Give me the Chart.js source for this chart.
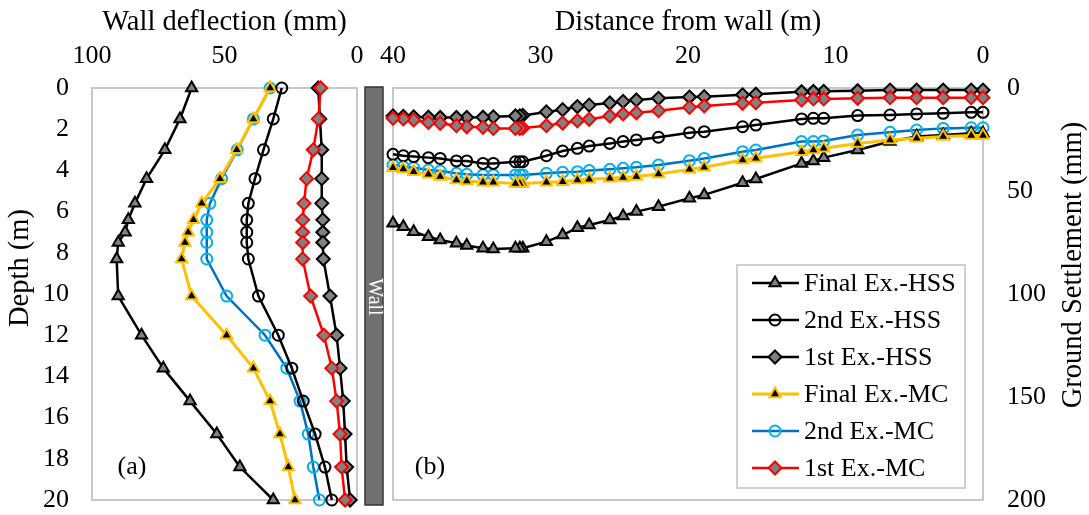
<!DOCTYPE html>
<html>
<head>
<meta charset="utf-8">
<script src="https://cdn.jsdelivr.net/npm/chart.js@4.4.0/dist/chart.umd.min.js"></script>
<style>
html, body { margin: 0; padding: 0; background: #fff; }
#wrap { position: relative; width: 1089px; height: 515px; overflow: hidden; }
canvas { position: absolute; top: 0; }
#deflChart { left: 0; }
#settleChart { left: 365px; }
</style>
</head>
<body>
<div id="wrap">
  <canvas id="deflChart" width="390" height="515"></canvas>
  <canvas id="settleChart" width="724" height="515"></canvas>
</div>
<script>
// (a) wall deflection vs depth
const depths = [0, 1.5, 3, 4.4, 5.6, 6.4, 7, 7.5, 8.3, 10.1, 12, 13.6, 15.2, 16.8, 18.4, 20];
const deflFinalHSS = [62.4, 66.8, 72.5, 79.4, 83.8, 86.3, 87.5, 90.1, 90.7, 90.1, 81.3, 73.1, 63, 52.9, 44.2, 31.6];
const defl2ndHSS = [28.4, 31.6, 35.3, 38.5, 41, 41.6, 41.6, 41.6, 41, 37.2, 29.7, 24.6, 20.3, 15.8, 12.1, 9.5];
const defl1stHSS = [14.6, 14, 13.3, 13.3, 13.3, 12.9, 12.9, 12.9, 12.7, 10.2, 7.7, 6.4, 5.2, 4.5, 3.9, 2.6];
const deflFinalMC = [32.8, 39.1, 45.4, 51.7, 58.6, 61.7, 63.7, 64.9, 66.2, 62.4, 49.2, 39.1, 32.8, 29.1, 25.9, 23.4];
const defl2ndMC = [32.8, 39.1, 45.2, 51.1, 55.5, 56.7, 56.7, 56.7, 56.7, 49.2, 34.7, 26.5, 21.5, 18.4, 16.5, 14.2];
const defl1stMC = [13.7, 14.6, 16.5, 19, 20, 20.5, 20.5, 20.5, 20.5, 17.5, 12.5, 9.5, 7.7, 6.4, 5.8, 4.5];

// (b) ground settlement vs distance from wall
const distances = [0, 0.8, 2.7, 4.5, 6.3, 8.5, 10.8, 11.5, 12.3, 15.4, 16.3, 18.9, 19.9, 22, 23.5, 24.4, 25.3,
  26.7, 27.5, 28.5, 29.6, 31.2, 31.4, 31.7, 33.2, 33.9, 35, 35.7, 36.8, 37.6, 38.6, 39.3, 40];
const setFinalHSS = [22, 22, 22.8, 23.6, 26, 30.1, 33.8, 35.4, 36.6, 44.2, 46, 51.9, 53.5, 57.6, 60, 62.1, 64.1,
  66.5, 67.8, 71.4, 74.6, 77.8, 77.8, 77.8, 78.2, 77.8, 76.5, 75.4, 73.8, 72.2, 69.8, 67.3, 65.7];
const set2ndHSS = [11.8, 11.8, 12.3, 12.6, 13.1, 13.4, 14.7, 14.7, 15, 18, 18.8, 21.2, 21.7, 23.9, 25.2, 26, 26.9,
  28.2, 29.3, 30.6, 32.9, 35.8, 35.8, 35.8, 36.6, 36.6, 35.4, 35.4, 34.2, 33.8, 33.3, 32.9, 32.2];
const set1stHSS = [1, 1, 1, 1, 1, 1.3, 1.6, 1.7, 1.8, 3, 3.3, 4.2, 4.4, 5, 5.8, 6.5, 7.3,
  8.3, 9, 10.5, 11.6, 13.3, 13.5, 13.6, 14, 14.2, 14.3, 14.3, 14.3, 14.2, 14, 13.8, 13.6];
const setFinalMC = [23.1, 23.1, 23.6, 24.4, 25.2, 26.9, 29.3, 30.1, 30.9, 34.1, 35, 38.5, 39.5, 41.7, 43, 43.5, 43.8,
  44.3, 44.7, 45.5, 45.8, 46.3, 46.3, 46.3, 45.8, 45.8, 45.1, 44.7, 43, 41.9, 40.6, 39.3, 38.7];
const set2ndMC = [19.3, 19.3, 19.6, 20.4, 21.5, 22.8, 25.7, 26, 26, 30.1, 30.9, 34.2, 35.3, 37.4, 38.5, 39, 39.5,
  40.1, 40.6, 40.9, 41.4, 42.2, 42.2, 42.2, 42.2, 42.2, 41.9, 41.4, 40.3, 39.8, 38.7, 38.2, 37.4];
const set1stMC = [4.7, 4.7, 4.7, 4.7, 4.7, 5, 5.3, 5.3, 5.8, 7.2, 7.4, 8.7, 9.4, 11, 12, 12.6, 13.6,
  15.2, 15.9, 17, 18.3, 19.4, 19.6, 19.6, 19.6, 19.1, 18.8, 18.3, 17.1, 16.7, 15.5, 15, 14.7];

const seriesNames = ["Final Ex.-HSS", "2nd Ex.-HSS", "1st Ex.-HSS", "Final Ex.-MC", "2nd Ex.-MC", "1st Ex.-MC"];
const deflTicks = [0, 50, 100];
const depthTicks = [0, 2, 4, 6, 8, 10, 12, 14, 16, 18, 20];
const distTicks = [0, 10, 20, 30, 40];
const settleTicks = [0, 50, 100, 150, 200];

const SERIF = "'Liberation Serif', 'Times New Roman', serif";
const TITLE_SIZE = 28.5;
Chart.defaults.font.family = SERIF;
Chart.defaults.font.size = 26;
Chart.defaults.color = "#000";

// marker / line look per series
const looks = [
  { line: "#000", lw: 2.5, style: "triangle", r: 6.5, bg: "#808080", bd: "#000" },
  { line: "#000", lw: 2.5, style: "circle", r: 5.5, bg: "rgba(0,0,0,0)", bd: "#000" },
  { line: "#000", lw: 2.5, style: "rectRot", r: 6.5, bg: "#808080", bd: "#000" },
  { line: "#FFC000", lw: 3, style: "triangle", r: 6.5, bg: "#000", bd: "#FFC000" },
  { line: "#0070C0", lw: 2.5, style: "circle", r: 5.5, bg: "rgba(0,0,0,0)", bd: "#00B0F0" },
  { line: "#FF0000", lw: 2.5, style: "rectRot", r: 6.5, bg: "#808080", bd: "#FF0000" }
];
const drawOrder = [3, 2, 4, 1, 5, 0];

function pairs(xs, ys) {
  return xs.map((x, i) => ({ x: x, y: ys[i] }));
}

function makeSets(list) {
  return list.map((data, i) => ({
    label: seriesNames[i],
    data: data,
    borderColor: looks[i].line,
    borderWidth: looks[i].lw,
    pointStyle: looks[i].style,
    pointRadius: looks[i].r,
    pointBackgroundColor: looks[i].bg,
    pointBorderColor: looks[i].bd,
    pointBorderWidth: 2,
    tension: 0,
    fill: false,
    clip: false,
    order: drawOrder[i]
  }));
}

function fixedTicks(values) {
  return function (scale) {
    scale.ticks = values.map(v => ({ value: v }));
  };
}

// fixed box sizes so the plot areas line up with the picture
function fitX(s) {
  s.height = 88;
  s.paddingLeft = 0; s.paddingRight = 0; s.paddingTop = 0; s.paddingBottom = 0;
}
function fitY(w) {
  return function (s) {
    s.width = w;
    s.paddingLeft = 0; s.paddingRight = 0; s.paddingTop = 0; s.paddingBottom = 0;
  };
}

function drawMarker(ctx, look, x, y) {
  const r = look.r;
  ctx.beginPath();
  if (look.style === "triangle") {
    for (let k = 0; k < 3; k++) {
      const a = k * 2 * Math.PI / 3;
      ctx[k ? "lineTo" : "moveTo"](x + Math.sin(a) * r, y - Math.cos(a) * r);
    }
    ctx.closePath();
  } else if (look.style === "circle") {
    ctx.arc(x, y, r, 0, Math.PI * 2);
  } else {
    ctx.moveTo(x, y - r); ctx.lineTo(x + r, y); ctx.lineTo(x, y + r); ctx.lineTo(x - r, y);
    ctx.closePath();
  }
  ctx.fillStyle = look.bg;
  ctx.fill();
  ctx.lineWidth = 2;
  ctx.strokeStyle = look.bd;
  ctx.stroke();
}

const frame = {
  id: "frame",
  beforeDatasetsDraw(chart) {
    const a = chart.chartArea, ctx = chart.ctx;
    ctx.save();
    ctx.strokeStyle = "#c8c8c8";
    ctx.lineWidth = 2;
    ctx.strokeRect(a.left, a.top, a.right - a.left, a.bottom - a.top);
    ctx.restore();
  }
};

const leftExtras = {
  id: "leftExtras",
  afterDraw(chart) {
    const a = chart.chartArea, ctx = chart.ctx;
    ctx.save();
    // wall strip
    ctx.fillStyle = "#707070";
    ctx.strokeStyle = "#333";
    ctx.lineWidth = 1.5;
    ctx.fillRect(a.right + 8, a.top - 1, 18, a.bottom - a.top + 6);
    ctx.strokeRect(a.right + 8, a.top - 1, 18, a.bottom - a.top + 6);
    ctx.translate(a.right + 17, (a.top + a.bottom) / 2 + 3);
    ctx.rotate(Math.PI / 2);
    ctx.fillStyle = "#fff";
    ctx.font = "20px " + SERIF;
    ctx.textAlign = "center";
    ctx.textBaseline = "middle";
    ctx.fillText("Wall", 0, 0);
    ctx.restore();

    ctx.save();
    ctx.font = "26px " + SERIF;
    ctx.fillStyle = "#000";
    ctx.textAlign = "center";
    ctx.textBaseline = "middle";
    ctx.fillText("(a)", a.left + 40, a.bottom - 33);
    ctx.font = TITLE_SIZE + "px " + SERIF;
    ctx.translate(21, 268);
    ctx.rotate(-Math.PI / 2);
    ctx.fillText("Depth (m)", 0, 0);
    ctx.restore();
  }
};

const rightExtras = {
  id: "rightExtras",
  afterDraw(chart) {
    const a = chart.chartArea, ctx = chart.ctx;
    ctx.save();
    ctx.font = "26px " + SERIF;
    ctx.fillStyle = "#000";
    ctx.textAlign = "center";
    ctx.textBaseline = "middle";
    ctx.fillText("(b)", a.left + 37, a.bottom - 33);

    // legend box inside the plot
    const bx = a.right - 246, by = 265, bw = 228, bh = 223;
    ctx.fillStyle = "#fff";
    ctx.fillRect(bx, by, bw, bh);
    ctx.strokeStyle = "#d0d0d0";
    ctx.lineWidth = 2;
    ctx.strokeRect(bx, by, bw, bh);
    seriesNames.forEach((name, i) => {
      const y = by + 18 + i * 37;
      const look = looks[i];
      ctx.strokeStyle = look.line;
      ctx.lineWidth = look.lw;
      ctx.beginPath();
      ctx.moveTo(bx + 15, y);
      ctx.lineTo(bx + 62, y);
      ctx.stroke();
      drawMarker(ctx, look, bx + 38, y);
      ctx.fillStyle = "#000";
      ctx.textAlign = "left";
      ctx.fillText(name, bx + 67, y + 1);
    });

    ctx.font = TITLE_SIZE + "px " + SERIF;
    ctx.translate(chart.width - 15, 265);
    ctx.rotate(-Math.PI / 2);
    ctx.textAlign = "center";
    ctx.fillText("Ground Settlement (mm)", 0, 0);
    ctx.restore();
  }
};

new Chart(document.getElementById("deflChart"), {
  type: "line",
  data: {
    datasets: makeSets([
      pairs(deflFinalHSS, depths), pairs(defl2ndHSS, depths), pairs(defl1stHSS, depths),
      pairs(deflFinalMC, depths), pairs(defl2ndMC, depths), pairs(defl1stMC, depths)
    ])
  },
  options: {
    responsive: false,
    animation: false,
    events: [],
    layout: { padding: { left: 0, right: 33, top: 0, bottom: 15 } },
    plugins: { legend: { display: false }, tooltip: { enabled: false } },
    scales: {
      x: {
        type: "linear", position: "top", reverse: true, min: 0, max: 100,
        afterBuildTicks: fixedTicks(deflTicks),
        afterFit: fitX,
        grid: { display: false, drawTicks: false },
        border: { display: false },
        ticks: { padding: 16, maxRotation: 0 },
        title: { display: true, text: "Wall deflection (mm)", font: { size: TITLE_SIZE }, padding: { top: 5, bottom: 0 } }
      },
      y: {
        type: "linear", position: "left", reverse: true, min: 0, max: 20,
        afterBuildTicks: fixedTicks(depthTicks),
        afterFit: fitY(92),
        grid: { display: false, drawTicks: false },
        border: { display: false },
        ticks: { padding: 23 }
      }
    }
  },
  plugins: [frame, leftExtras]
});

new Chart(document.getElementById("settleChart"), {
  type: "line",
  data: {
    datasets: makeSets([
      pairs(distances, setFinalHSS), pairs(distances, set2ndHSS), pairs(distances, set1stHSS),
      pairs(distances, setFinalMC), pairs(distances, set2ndMC), pairs(distances, set1stMC)
    ])
  },
  options: {
    responsive: false,
    animation: false,
    events: [],
    layout: { padding: { left: 28, right: 0, top: 0, bottom: 15 } },
    plugins: { legend: { display: false }, tooltip: { enabled: false } },
    scales: {
      x: {
        type: "linear", position: "top", reverse: true, min: 0, max: 40,
        afterBuildTicks: fixedTicks(distTicks),
        afterFit: fitX,
        grid: { display: false, drawTicks: false },
        border: { display: false },
        ticks: { padding: 16, maxRotation: 0 },
        title: { display: true, text: "Distance from wall (m)", font: { size: TITLE_SIZE }, padding: { top: 5, bottom: 0 } }
      },
      y: {
        type: "linear", position: "right", reverse: true, min: 0, max: 200,
        afterBuildTicks: fixedTicks(settleTicks),
        afterFit: fitY(106),
        grid: { display: false, drawTicks: false },
        border: { display: false },
        ticks: { padding: 24 }
      }
    }
  },
  plugins: [frame, rightExtras]
});
</script>
</body>
</html>
